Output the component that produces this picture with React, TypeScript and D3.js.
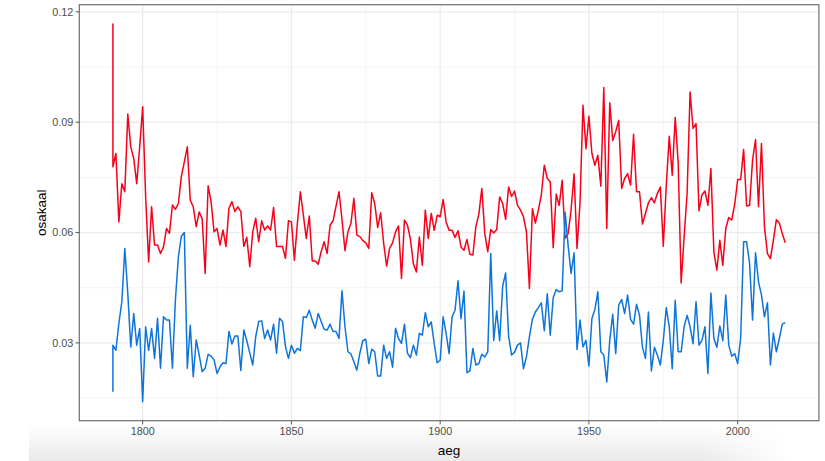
import React from "react";
import * as d3 from "d3";

// Years: 1790 appears twice (two observations), then yearly to 2016
const years: number[] = [1790, ...d3.range(1790, 2017)];

const seriesRed: number[] = [
  0.1168, 0.0779,
  0.0815, 0.0629, 0.0733, 0.0711, 0.0922, 0.0833, 0.0801, 0.0733, 0.0833,
  0.0942, 0.0697, 0.0520, 0.0670, 0.0566, 0.0566, 0.0543, 0.0561, 0.0611, 0.0598,
  0.0675, 0.0663, 0.0679, 0.0752, 0.0792, 0.0833, 0.0688, 0.0670, 0.0616, 0.0656,
  0.0638, 0.0489, 0.0727, 0.0684, 0.0602, 0.0611, 0.0566, 0.0607, 0.0562, 0.0666,
  0.0684, 0.0657, 0.0670, 0.0657, 0.0562, 0.0587, 0.0507, 0.0602, 0.0639, 0.0575,
  0.0632, 0.0607, 0.0618, 0.0607, 0.0668, 0.0562, 0.0562, 0.0562, 0.0530, 0.0632,
  0.0629, 0.0525, 0.0625, 0.0711, 0.0648, 0.0584, 0.0645, 0.0523, 0.0523, 0.0514,
  0.0548, 0.0575, 0.0543, 0.0620, 0.0632, 0.0672, 0.0711, 0.0636, 0.0551, 0.0602,
  0.0625, 0.0693, 0.0593, 0.0589, 0.0578, 0.0572, 0.0557, 0.0708, 0.0679, 0.0614,
  0.0654, 0.0571, 0.0509, 0.0557, 0.0572, 0.0602, 0.0618, 0.0475, 0.0634, 0.0620,
  0.0582, 0.0515, 0.0493, 0.0588, 0.0511, 0.0661, 0.0584, 0.0652, 0.0606, 0.0647,
  0.0643, 0.0690, 0.0629, 0.0606, 0.0606, 0.0587, 0.0605, 0.0561, 0.0552, 0.0581,
  0.0541, 0.0539, 0.0616, 0.0650, 0.0720, 0.0597, 0.0548, 0.0608, 0.0599, 0.0608,
  0.0697, 0.0679, 0.0636, 0.0724, 0.0698, 0.0713, 0.0674, 0.0661, 0.0643, 0.0602,
  0.0448, 0.0665, 0.0626, 0.0661, 0.0702, 0.0783, 0.0747, 0.0738, 0.0559, 0.0704,
  0.0674, 0.0742, 0.0584, 0.0597, 0.0661, 0.0760, 0.0557, 0.0679, 0.0946, 0.0828,
  0.0916, 0.0815, 0.0783, 0.0810, 0.0726, 0.0994, 0.0611, 0.0953, 0.0850, 0.0874,
  0.0905, 0.0720, 0.0747, 0.0760, 0.0729, 0.0867, 0.0711, 0.0711, 0.0623, 0.0652,
  0.0681, 0.0695, 0.0681, 0.0706, 0.0724, 0.0563, 0.0729, 0.0862, 0.0756, 0.0913,
  0.0790, 0.0463, 0.0588, 0.0706, 0.0982, 0.0883, 0.0896, 0.0659, 0.0702, 0.0713,
  0.0674, 0.0774, 0.0547, 0.0498, 0.0579, 0.0511, 0.0611, 0.0641, 0.0634, 0.0677,
  0.0744, 0.0744, 0.0826, 0.0672, 0.0674, 0.0797, 0.0853, 0.0670, 0.0842, 0.0616,
  0.0543, 0.0529, 0.0579, 0.0635, 0.0626, 0.0597, 0.0572,
];

const seriesBlue: number[] = [
  0.0167, 0.0294,
  0.0280, 0.0353, 0.0412, 0.0557, 0.0434, 0.0289, 0.0380, 0.0294, 0.0339,
  0.0140, 0.0344, 0.0280, 0.0339, 0.0258, 0.0367, 0.0231, 0.0371, 0.0362, 0.0362,
  0.0231, 0.0416, 0.0534, 0.0590, 0.0600, 0.0231, 0.0348, 0.0208, 0.0308, 0.0267,
  0.0222, 0.0231, 0.0269, 0.0264, 0.0254, 0.0217, 0.0235, 0.0246, 0.0244, 0.0331,
  0.0297, 0.0319, 0.0319, 0.0225, 0.0335, 0.0306, 0.0273, 0.0240, 0.0317, 0.0358,
  0.0360, 0.0312, 0.0335, 0.0308, 0.0351, 0.0272, 0.0367, 0.0358, 0.0290, 0.0258,
  0.0294, 0.0272, 0.0285, 0.0279, 0.0371, 0.0369, 0.0389, 0.0362, 0.0340, 0.0380,
  0.0358, 0.0337, 0.0335, 0.0351, 0.0331, 0.0331, 0.0312, 0.0442, 0.0344, 0.0276,
  0.0270, 0.0249, 0.0226, 0.0272, 0.0306, 0.0310, 0.0244, 0.0283, 0.0276, 0.0210,
  0.0210, 0.0294, 0.0258, 0.0276, 0.0234, 0.0340, 0.0312, 0.0299, 0.0351, 0.0272,
  0.0260, 0.0294, 0.0267, 0.0326, 0.0321, 0.0382, 0.0344, 0.0357, 0.0298, 0.0246,
  0.0253, 0.0371, 0.0326, 0.0271, 0.0371, 0.0389, 0.0469, 0.0366, 0.0441, 0.0219,
  0.0224, 0.0285, 0.0240, 0.0244, 0.0269, 0.0262, 0.0276, 0.0543, 0.0307, 0.0387,
  0.0306, 0.0454, 0.0490, 0.0319, 0.0267, 0.0275, 0.0294, 0.0300, 0.0230, 0.0262,
  0.0317, 0.0364, 0.0384, 0.0396, 0.0409, 0.0333, 0.0434, 0.0321, 0.0423, 0.0445,
  0.0439, 0.0442, 0.0656, 0.0566, 0.0489, 0.0545, 0.0282, 0.0362, 0.0289, 0.0307,
  0.0237, 0.0366, 0.0391, 0.0439, 0.0276, 0.0267, 0.0194, 0.0307, 0.0378, 0.0271,
  0.0403, 0.0418, 0.0380, 0.0430, 0.0364, 0.0351, 0.0405, 0.0375, 0.0288, 0.0258,
  0.0384, 0.0224, 0.0288, 0.0267, 0.0240, 0.0307, 0.0396, 0.0344, 0.0230, 0.0416,
  0.0276, 0.0276, 0.0344, 0.0375, 0.0344, 0.0298, 0.0412, 0.0294, 0.0307, 0.0344,
  0.0217, 0.0436, 0.0312, 0.0288, 0.0346, 0.0306, 0.0430, 0.0294, 0.0264, 0.0271,
  0.0244, 0.0312, 0.0575, 0.0575, 0.0516, 0.0362, 0.0545, 0.0466, 0.0430, 0.0371,
  0.0409, 0.0240, 0.0327, 0.0276, 0.0312, 0.0351, 0.0355,
];

const xTicks: number[] = [1800, 1850, 1900, 1950, 2000];
const xMinor: number[] = [1825, 1875, 1925, 1975];
const yTicks: number[] = [0.03, 0.06, 0.09, 0.12];
const yMinor: number[] = [0.015, 0.045, 0.075, 0.105];
const xTitle = "aeg";
const yTitle = "osakaal";

const W = 825;
const H = 461;
const panel = { left: 79.3, right: 818.9, top: 4.7, bottom: 420.7 };

function expand(ext: [number, number], f = 0.05): [number, number] {
  const d = ext[1] - ext[0];
  return [ext[0] - d * f, ext[1] + d * f];
}

export default function App() {
  const xDom = expand(d3.extent(years) as [number, number]);
  const yDom = expand(
    d3.extent([...seriesRed, ...seriesBlue]) as [number, number]
  );
  const x = d3.scaleLinear().domain(xDom).range([panel.left, panel.right]);
  const y = d3.scaleLinear().domain(yDom).range([panel.bottom, panel.top]);

  const line = d3
    .line<number>()
    .x((_, i) => x(years[i]))
    .y((d) => y(d));

  const font = "'Liberation Sans', Arial, Helvetica, sans-serif";
  const cx = (panel.left + panel.right) / 2;
  const cy = (panel.top + panel.bottom) / 2;

  return (
    <svg
      width={W}
      height={H}
      style={{ position: "absolute", left: 0, top: 0, display: "block" }}
    >
      <defs>
        <linearGradient id="bandV" x1="0" y1="0" x2="0" y2="1">
          <stop offset="0" stopColor="#ffffff" />
          <stop offset="1" stopColor="#e9e9e9" />
        </linearGradient>
        <linearGradient id="bandH" x1="0" y1="0" x2="1" y2="0">
          <stop offset="0" stopColor="#fff" />
          <stop offset="0.88" stopColor="#fff" />
          <stop offset="1" stopColor="#000" />
        </linearGradient>
        <mask id="bandMask">
          <rect x={29} y={424} width={760} height={37} fill="url(#bandH)" />
        </mask>
      </defs>
      <rect x={0} y={0} width={W} height={H} fill="#ffffff" />
      <rect
        x={29}
        y={424}
        width={760}
        height={37}
        fill="url(#bandV)"
        mask="url(#bandMask)"
      />
      {/* minor grid */}
      {yMinor.map((v) => (
        <line
          key={"ym" + v}
          x1={panel.left}
          x2={panel.right}
          y1={y(v)}
          y2={y(v)}
          stroke="#f3f3f3"
          strokeWidth={0.8}
        />
      ))}
      {xMinor.map((v) => (
        <line
          key={"xm" + v}
          y1={panel.top}
          y2={panel.bottom}
          x1={x(v)}
          x2={x(v)}
          stroke="#f3f3f3"
          strokeWidth={0.8}
        />
      ))}
      {/* major grid */}
      {yTicks.map((v) => (
        <line
          key={"yg" + v}
          x1={panel.left}
          x2={panel.right}
          y1={y(v)}
          y2={y(v)}
          stroke="#ebebeb"
          strokeWidth={1.3}
        />
      ))}
      {xTicks.map((v) => (
        <line
          key={"xg" + v}
          y1={panel.top}
          y2={panel.bottom}
          x1={x(v)}
          x2={x(v)}
          stroke="#ebebeb"
          strokeWidth={1.3}
        />
      ))}
      {/* lines */}
      <path
        d={line(seriesRed) || ""}
        fill="none"
        stroke="#f8001a"
        strokeWidth={1.5}
        strokeLinejoin="round"
      />
      <path
        d={line(seriesBlue) || ""}
        fill="none"
        stroke="#0f74da"
        strokeWidth={1.5}
        strokeLinejoin="round"
      />
      {/* border */}
      <rect
        x={panel.left}
        y={panel.top}
        width={panel.right - panel.left}
        height={panel.bottom - panel.top}
        fill="none"
        stroke="#6e6e6e"
        strokeWidth={1.2}
      />
      {/* y axis */}
      {yTicks.map((v) => (
        <g key={"yt" + v}>
          <line
            x1={panel.left - 3.7}
            x2={panel.left}
            y1={y(v)}
            y2={y(v)}
            stroke="#555"
            strokeWidth={1}
          />
          <text
            x={panel.left - 6}
            y={y(v)}
            dy="0.35em"
            textAnchor="end"
            fontFamily={font}
            fontSize={10.8}
            fill="#4d4d4d"
          >
            {d3.format(".2f")(v)}
          </text>
        </g>
      ))}
      {/* x axis */}
      {xTicks.map((v) => (
        <g key={"xt" + v}>
          <line
            x1={x(v)}
            x2={x(v)}
            y1={panel.bottom}
            y2={panel.bottom + 3.7}
            stroke="#555"
            strokeWidth={1}
          />
          <text
            x={x(v)}
            y={435}
            textAnchor="middle"
            fontFamily={font}
            fontSize={10.8}
            fill="#4d4d4d"
          >
            {v}
          </text>
        </g>
      ))}
      <text
        x={cx}
        y={455}
        textAnchor="middle"
        fontFamily={font}
        fontSize={13.5}
        fill="#000"
      >
        {xTitle}
      </text>
      <text
        transform={`translate(46,${cy}) rotate(-90)`}
        textAnchor="middle"
        fontFamily={font}
        fontSize={13.5}
        fill="#000"
      >
        {yTitle}
      </text>
    </svg>
  );
}
